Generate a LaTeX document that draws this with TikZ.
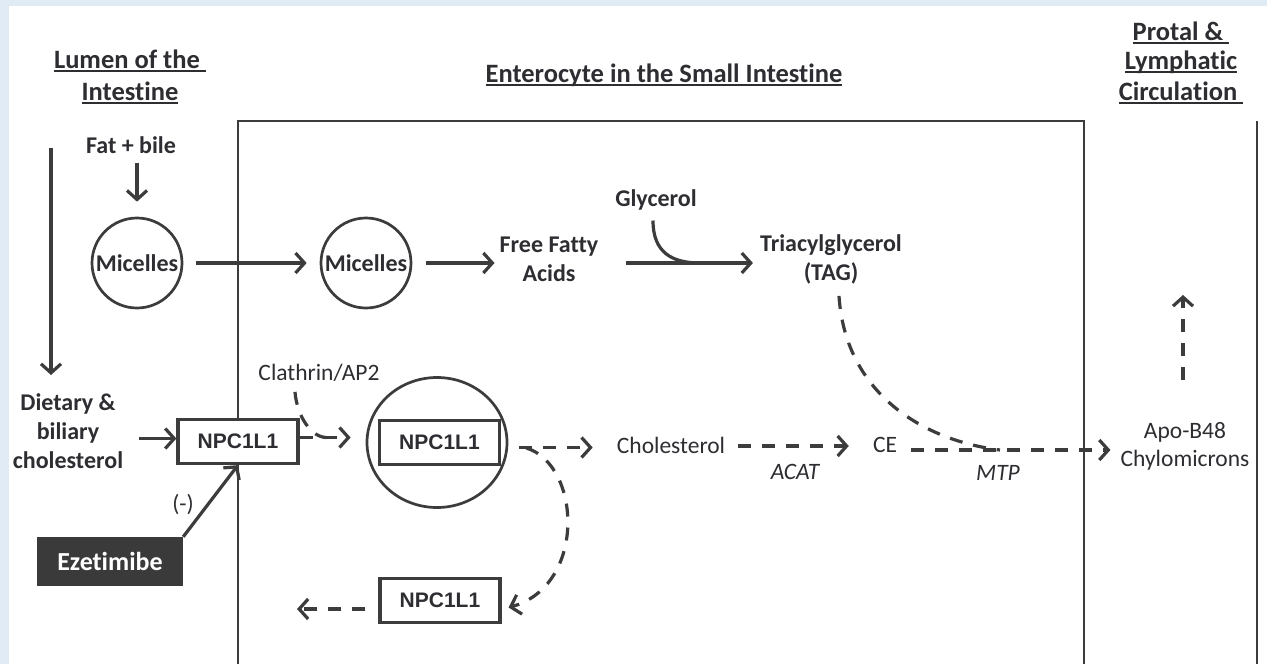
\documentclass[tikz,border=0pt]{standalone}
\usepackage{fontspec}
\setmainfont{Carlito}[Ligatures={NoCommon}]
\newfontfamily\npcfont{Liberation Sans}
\usetikzlibrary{arrows.meta,shapes.geometric,calc}

\definecolor{bgblue}{RGB}{224,235,246}
\definecolor{ink}{RGB}{60,60,60}
\definecolor{txt}{RGB}{45,45,50}
\definecolor{ezfill}{RGB}{58,58,58}

% underline drawn as a rule of its own thickness
\newcommand\hdrline[1]{\setbox0\hbox{#1}\rlap{\rule[-3.5pt]{\wd0}{1.8pt}}\box0}

\begin{document}
\begin{tikzpicture}[x=1pt,y=-1pt,
  ln/.style={draw=ink,line width=3.2pt},
  arr/.style={ln,-{Straight Barb[length=9pt,width=20pt]}},
  darr/.style={arr,dash pattern=on 13pt off 11pt},
  dln/.style={ln,dash pattern=on 13pt off 11pt},
  frame/.style={draw=ink,line width=2.2pt},
  hdr/.style={text=txt,font=\bfseries\fontsize{26.5}{31}\selectfont,inner sep=0pt,anchor=base},
  lbl/.style={text=txt,font=\bfseries\fontsize{24}{29}\selectfont,inner sep=0pt,align=center},
  lblr/.style={text=txt,font=\fontsize{23.5}{28}\selectfont,inner sep=0pt,align=center},
  enz/.style={text=txt,font=\itshape\fontsize{23.5}{28}\selectfont,inner sep=0pt},
  npc/.style={draw=ink,line width=3.2pt,fill=white,minimum width=120pt,minimum height=44pt,
    inner sep=0pt,text=txt,font=\npcfont\bfseries\fontsize{21}{25}\selectfont},
  mic/.style={circle,draw=ink,line width=2.7pt,minimum size=90pt,inner sep=0pt,
    text=txt,font=\bfseries\fontsize{24}{29}\selectfont},
]
% page background and white sheet
\fill[bgblue] (0,0) rectangle (1267,664);
\fill[white] (9,6) rectangle (1267,664);
\useasboundingbox (0,0) rectangle (1267,664);

% compartment outlines
\coordinate (eTL) at (238,121);
\coordinate (eTR) at (1084,121);
\coordinate (eBL) at (238,664);
\coordinate (eBR) at (1084,664);
\draw[frame] (eBL) -- (eTL) -- (eTR) -- (eBR);
\coordinate (cT) at (1257,121);
\coordinate (cB) at (1257,664);
\draw[frame] (cT) -- (cB);

% headings
\node[hdr] (lum1) at (130,68) {\hdrline{Lumen of the\ }};
\node[hdr] (lum2) at (130,100) {\hdrline{Intestine}};
\node[hdr] (ent) at (664,82) {\hdrline{Enterocyte in the Small Intestine}};
\node[hdr] (circ1) at (1181,40) {\hdrline{Protal \&\ }};
\node[hdr] (circ2) at (1181,69) {\hdrline{Lymphatic}};
\node[hdr] (circ3) at (1181,100) {\hdrline{Circulation\ }};

% species and transporters
\node[lbl] (fat) at (131,145) {Fat + bile};
\node[mic] (mic1) at (137,263) {Micelles};
\node[mic] (mic2) at (366,263) {Micelles};
\node[lbl] (ffa) at (549,259) {Free Fatty\\Acids};
\node[lbl] (gly) at (656,200) {Glycerol};
\node[lbl] (tag) at (831,259) {Triacylglycerol\\(TAG)};
\node[lbl] (diet) at (68,431) {Dietary \&\\biliary\\cholesterol};
\node[lblr] (clath) at (319,373) {Clathrin/AP2};
\node[npc] (npcA) at (238,441.5) {NPC1L1};
\node[ellipse,draw=ink,line width=2.7pt,minimum width=140pt,minimum height=130pt,inner sep=0pt] (big) at (437,442.5) {};
\node[npc] (npcB) at (439.5,442.5) {NPC1L1};
\node[npc] (npcC) at (440,600.5) {NPC1L1};
\node[lblr] (chol) at (671,445) {Cholesterol};
\node[lblr] (ce) at (885,445) {CE};
\node[enz] (acat) at (795,472) {ACAT};
\node[enz] (mtp) at (998,473) {MTP};
\node[lblr] (apo) at (1185,446) {Apo-B48\\Chylomicrons};
\node[fill=ezfill,text=white,font=\bfseries\fontsize{26}{30}\selectfont,
  minimum width=146pt,minimum height=49pt,inner sep=0pt] (eze) at (110,561.5) {Ezetimibe};
\node[lblr] (minus) at (183,505) {(-)};

% lumen flows
\coordinate (lumTop) at (51,148);
\coordinate (lumEnd) at (51,375);
\draw[arr] (lumTop) -- (lumEnd);
\draw[arr,shorten <=9pt,shorten >=15pt] (fat.south -| mic1) -- (mic1.north);
\draw[arr,shorten <=13pt,shorten >=13pt] (mic1) -- (mic2);
\draw[arr,shorten <=14pt,shorten >=5pt] (mic2.east) -- (mic2.east -| ffa.west);
\draw[arr,shorten <=28pt,shorten >=7pt] (ffa.east |- mic2.east) -- (tag.west |- mic2.east);

% glycerol joins the esterification arrow
\coordinate (glyJoin) at (700,263);
\draw[ln] ($(gly.south)+(-3,10)$) .. controls +(0,32) and +(-28,0) .. (glyJoin);

% TAG to chylomicron assembly
\coordinate (mtpJoin) at (1000,450);
\draw[dln] ($(tag.south)+(8,12)$) .. controls +(6,95) and +(-80,-10) .. (mtpJoin);

% cholesterol uptake
\draw[arr] ($(diet.east |- npcA.west)+(16,-3)$) -- ($(npcA.west)+(0,-3)$);
\draw[arr] (eze.north east) -- (npcA.south);
\draw[darr] ($(npcA.east)+(0,-4)$) -- ($(npcA.east -| big.west)+(-15,-4)$);
\draw[dln] ($(clath.south)+(-24,10)$) .. controls +(2,25) and +(-15,0) .. ($(npcA.east)+(27,-4)$);
\draw[darr] ($(big.east)+(11,5)$) -- ($(big.east -| chol.west)+(-24,5)$);
\draw[darr] ($(chol.east)+(13,1)$) -- ($(ce.west)+(-24,1)$);
\draw[darr] ($(ce.east)+(14,5)$) -- ($(ce.east -| apo.west)+(-10,5)$);

% recycling of NPC1L1
\draw[darr] ($(big.east)+(18,5.5)$) .. controls +(55,17) and +(78,-22) .. ($(npcC.east)+(7,7)$);
\coordinate (recyc) at (297,609);
\draw[darr] ($(npcC.west)+(-13,8.5)$) -- (recyc);

% secretion into circulation
\coordinate (apoUp) at (1183,295);
\draw[darr] ($(apo.north)+(-2,-42)$) -- (apoUp);
\end{tikzpicture}
\end{document}
